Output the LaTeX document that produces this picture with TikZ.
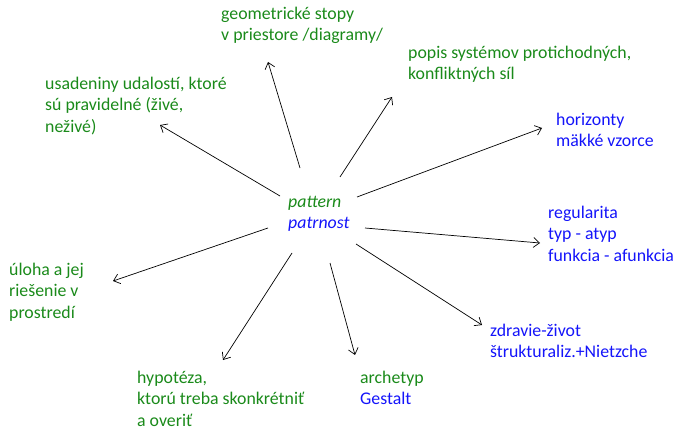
\documentclass[tikz,border=0pt]{standalone}
\usepackage{fontspec}
\setmainfont{Carlito}
\usetikzlibrary{arrows.meta}
\definecolor{tgreen}{RGB}{26,138,26}
\definecolor{tblue}{RGB}{20,20,250}
\begin{document}
\begin{tikzpicture}[x=1pt,y=-1pt,
  lbl/.style={anchor=north west,inner sep=0pt,align=left,font=\fontsize{17.8}{21.3}\selectfont},
  arr/.style={-{Straight Barb[length=6pt,width=10pt]},line width=0.7pt,black}]
\useasboundingbox (0,0) rectangle (678,428);
\node[lbl,tgreen] (ctr) at (288,196) {\itshape pattern\\\color{tblue}\itshape patrnost};
\node[lbl,tgreen] (geo) at (221,7) {geometrické stopy\\v priestore /diagramy/};
\node[lbl,tgreen] (pop) at (408,46) {popis systémov protichodných,\\konfliktných síl};
\node[lbl,tblue] (hor) at (556,113) {horizonty\\mäkké vzorce};
\node[lbl,tgreen] (usa) at (45,77) {usadeniny udalostí, ktoré\\sú pravidelné (živé,\\neživé)};
\node[lbl,tblue] (reg) at (548,206) {regularita\\typ - atyp\\funkcia - afunkcia};
\node[lbl,tblue] (zdr) at (490,324) {zdravie-život\\štrukturaliz.+Nietzche};
\node[lbl] (arc) at (360,371) {\color{tgreen}archetyp\\\color{tblue}Gestalt};
\node[lbl,tgreen] (hyp) at (137,371) {hypotéza,\\ktorú treba skonkrétniť\\a overiť};
\node[lbl,tgreen] (ulo) at (9,263) {úloha a jej\\riešenie v\\prostredí};
% connector end points
\coordinate (s1) at (300,168); \coordinate (t1) at (268,62);
\coordinate (s2) at (340,177); \coordinate (t2) at (392,97);
\coordinate (s3) at (357,197); \coordinate (t3) at (542,128);
\coordinate (s4) at (280,196); \coordinate (t4) at (160,125);
\coordinate (s5) at (365,228); \coordinate (t5) at (540,243);
\coordinate (s6) at (356,244); \coordinate (t6) at (482,325);
\coordinate (s7) at (330,263); \coordinate (t7) at (355,355);
\coordinate (s8) at (292,253); \coordinate (t8) at (223,360);
\coordinate (s9) at (268,228); \coordinate (t9) at (113,281);
\foreach \i in {1,...,9} {\draw[arr] (s\i) -- (t\i);}
\end{tikzpicture}
\end{document}
